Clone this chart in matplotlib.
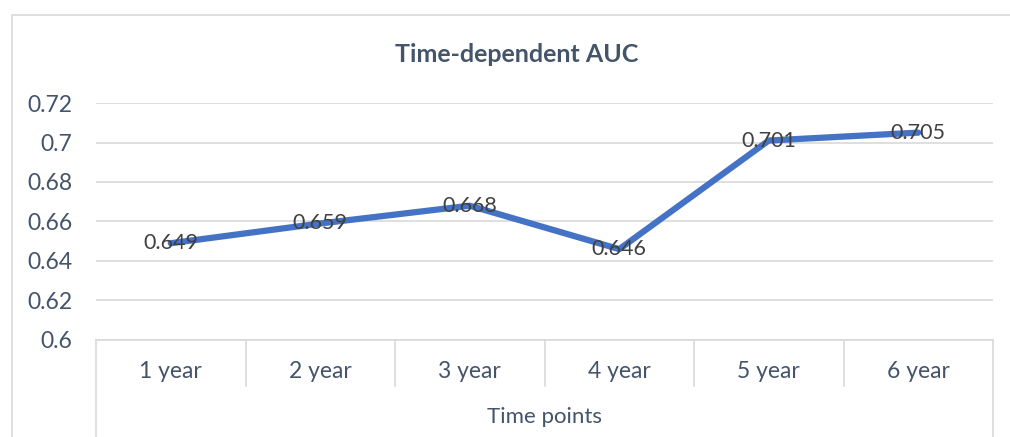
import matplotlib
matplotlib.use("Agg")
import matplotlib.pyplot as plt
from matplotlib.patches import Rectangle

categories = ["1 year", "2 year", "3 year", "4 year", "5 year", "6 year"]
auc = [0.649, 0.659, 0.668, 0.646, 0.701, 0.705]
yticks = [0.6, 0.62, 0.64, 0.66, 0.68, 0.7, 0.72]
ytick_labels = ["0.6", "0.62", "0.64", "0.66", "0.68", "0.7", "0.72"]

LINE = "#4472C4"
TEXT = "#44546A"
GRID = "#D9D9D9"

plt.rcParams["font.family"] = ["Lato", "DejaVu Sans"]

W, H = 1010, 437
fig = plt.figure(figsize=(W / 100, H / 100), dpi=100)

# outer chart border
fig.patches.append(Rectangle((12 / W, -0.1), 1.2, 1 - 15 / H + 0.1,
                             transform=fig.transFigure, fill=False,
                             edgecolor=GRID, lw=1.2))

ax = fig.add_axes([96 / W, (H - 340) / H, (993 - 96) / W, (340 - 103) / H])
x = [i + 0.5 for i in range(len(categories))]
ax.plot(x, auc, color=LINE, lw=4.5, solid_capstyle="round", zorder=3)
for xi, v in zip(x, auc):
    ax.text(xi, v, f"{v:.3f}", ha="center", va="center", fontsize=15.5,
            color="#404040", zorder=4)

ax.set_xlim(0, len(categories))
ax.set_ylim(0.6, 0.72)
ax.set_yticks(yticks)
ax.set_yticklabels(ytick_labels)
ax.tick_params(axis="y", length=0, pad=17, labelsize=16.5, labelcolor=TEXT)
ax.set_xticks([])
ax.grid(axis="y", color=GRID, lw=1.2)
ax.set_axisbelow(True)
for s in ("top", "right", "left"):
    ax.spines[s].set_visible(False)
ax.spines["bottom"].set_color(GRID)
ax.spines["bottom"].set_linewidth(1.2)

# multi-level category axis
tr = ax.get_xaxis_transform()
inner_bottom = -46 / 237
outer_bottom = -0.45
for i in range(len(categories) + 1):
    yb = outer_bottom if i in (0, len(categories)) else inner_bottom
    ax.plot([i, i], [0, yb], transform=tr, color=GRID, lw=1.2, clip_on=False)
for xi, c in zip(x, categories):
    ax.text(xi, -31 / 237, c, transform=tr, ha="center", va="center",
            fontsize=16.5, color=TEXT)
ax.text(len(categories) / 2, -77 / 237, "Time points", transform=tr,
        ha="center", va="center", fontsize=16, color=TEXT)

fig.text(517 / W, 1 - 55 / H, "Time-dependent AUC", ha="center", va="center",
         fontsize=18, fontweight="bold", color=TEXT)

fig.savefig("out.png", dpi=100)
